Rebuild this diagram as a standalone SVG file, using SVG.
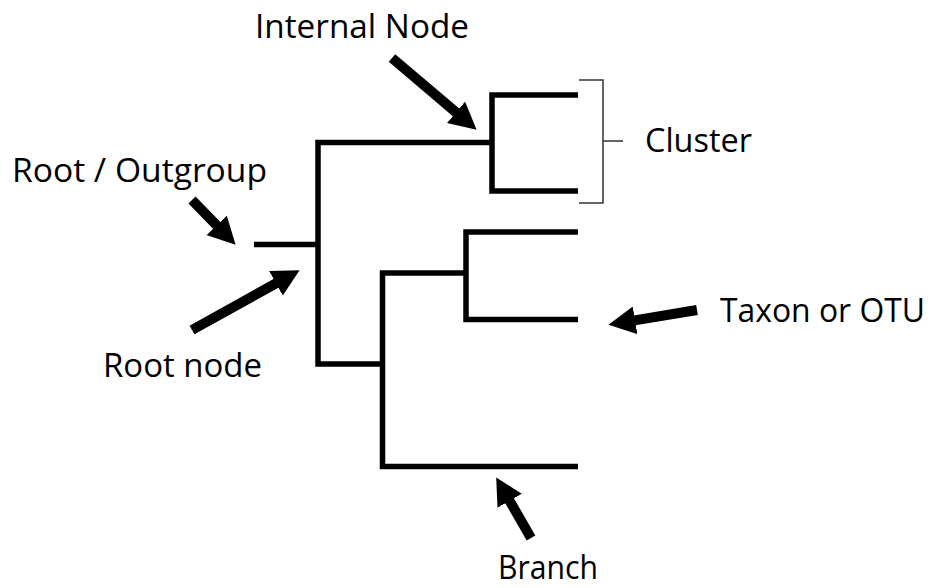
<svg xmlns="http://www.w3.org/2000/svg" width="930" height="588" viewBox="0 0 930 588">
  <style>
    .lbl { font-family: "Open Sans", "Liberation Sans", sans-serif; font-size: 32px; fill: #000; }
    .br { fill: none; stroke: #000; stroke-width: 5.5; stroke-linejoin: miter; stroke-linecap: butt; }
    .brk { fill: none; stroke: #333; stroke-width: 1.5; }
    .arr { stroke: #000; stroke-width: 10; stroke-linecap: butt; marker-end: url(#head); }
  </style>
  <defs>
    <marker id="head" viewBox="0 0 27 28" refX="0.5" refY="14" markerWidth="27" markerHeight="28" markerUnits="userSpaceOnUse" orient="auto">
      <path d="M0,0 L27,14 L0,28 z" fill="#000"/>
    </marker>
  </defs>
  <rect width="930" height="588" fill="#fff"/>

  <g id="connectors">
    <path class="br" d="M254,244.5 H318"/>
    <path class="br" d="M491,142.5 H318 V364 H382"/>
    <path class="br" d="M578,95 H492 V191 H578"/>
    <path class="br" d="M466,273 H382.5 V466.5 H578"/>
    <path class="br" d="M578,232 H466 V319.5 H578"/>
    <path class="brk" d="M579,80 H603 V203 H579 M603,141 H623"/>
    <line class="arr" x1="392" y1="58" x2="456.4" y2="112.6"/>
    <line class="arr" x1="192" y1="200" x2="217.1" y2="225.7"/>
    <line class="arr" x1="192" y1="330" x2="276.4" y2="283.1"/>
    <line class="arr" x1="697" y1="310" x2="634.6" y2="320.4"/>
    <line class="arr" x1="531" y1="538" x2="509.4" y2="500.4"/>
  </g>

  <g id="internal-node"><text class="lbl" x="255" y="38" textLength="214" lengthAdjust="spacingAndGlyphs">Internal Node</text></g>
  <g id="root-outgroup"><text class="lbl" x="12" y="182" textLength="255" lengthAdjust="spacingAndGlyphs">Root / Outgroup</text></g>
  <g id="root-node"><text class="lbl" x="103" y="377" textLength="159" lengthAdjust="spacingAndGlyphs">Root node</text></g>
  <g id="cluster"><text class="lbl" x="645" y="152" textLength="107" lengthAdjust="spacingAndGlyphs">Cluster</text></g>
  <g id="taxon"><text class="lbl" x="720" y="322" textLength="205" lengthAdjust="spacingAndGlyphs">Taxon or OTU</text></g>
  <g id="branch"><text class="lbl" x="498" y="579" textLength="100" lengthAdjust="spacingAndGlyphs">Branch</text></g>
</svg>
